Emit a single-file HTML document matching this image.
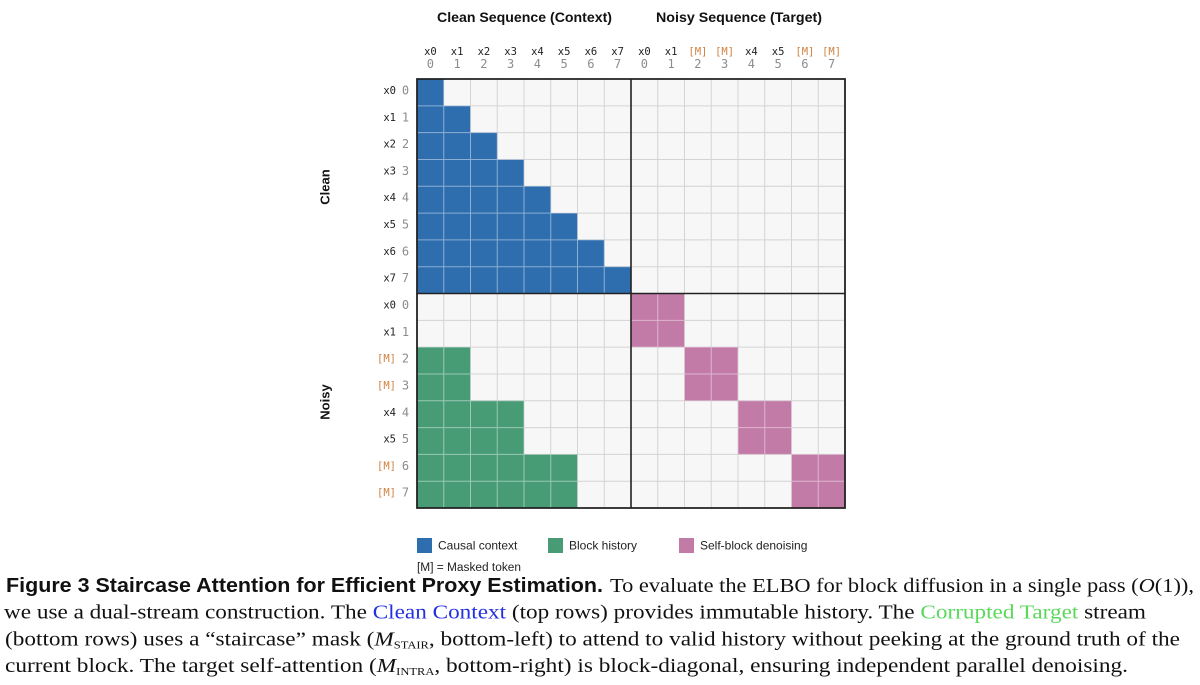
<!DOCTYPE html>
<html>
<head>
<meta charset="utf-8">
<style>
  html,body{margin:0;padding:0;background:#fff;}
  body{width:1200px;height:685px;overflow:hidden;position:relative;}
  svg{position:absolute;left:0;top:0;}
  .mono{font-family:"DejaVu Sans Mono","Liberation Mono",monospace;}
  .sans{font-family:"Liberation Sans",Arial,sans-serif;}
  .serif{font-family:"Liberation Serif","Times New Roman",serif;}
</style>
</head>
<body>
<svg width="1200" height="685" viewBox="0 0 1200 685" xmlns="http://www.w3.org/2000/svg">
  <defs>
    <clipPath id="colclip">
      <polygon points="0,0 1,0 1,1 2,1 2,2 3,2 3,3 4,3 4,4 5,4 5,5 6,5 6,6 7,6 7,7 8,7 8,8 0,8"/>
      <polygon points="0,10 2,10 2,12 4,12 4,14 6,14 6,16 0,16"/>
      <rect x="8" y="8" width="2" height="2"/>
      <rect x="10" y="10" width="2" height="2"/>
      <rect x="12" y="12" width="2" height="2"/>
      <rect x="14" y="14" width="2" height="2"/>
    </clipPath>
  </defs>

  <!-- Titles -->
  <text class="sans" x="437" y="22" font-size="14" font-weight="bold" fill="#111" textLength="175" lengthAdjust="spacingAndGlyphs">Clean Sequence (Context)</text>
  <text class="sans" x="656" y="22" font-size="14" font-weight="bold" fill="#111" textLength="166" lengthAdjust="spacingAndGlyphs">Noisy Sequence (Target)</text>

  <!-- Grid -->
  <g transform="translate(417,79) scale(26.75,26.8125)">
    <rect x="0" y="0" width="16" height="16" fill="#f7f7f7"/>
    <path d="M1 0V16M2 0V16M3 0V16M4 0V16M5 0V16M6 0V16M7 0V16M9 0V16M10 0V16M11 0V16M12 0V16M13 0V16M14 0V16M15 0V16M0 1H16M0 2H16M0 3H16M0 4H16M0 5H16M0 6H16M0 7H16M0 9H16M0 10H16M0 11H16M0 12H16M0 13H16M0 14H16M0 15H16" stroke="#d4d4d4" stroke-width="1" fill="none" vector-effect="non-scaling-stroke"/>
    <polygon points="0,0 1,0 1,1 2,1 2,2 3,2 3,3 4,3 4,4 5,4 5,5 6,5 6,6 7,6 7,7 8,7 8,8 0,8" fill="#2e6eae"/>
    <polygon points="0,10 2,10 2,12 4,12 4,14 6,14 6,16 0,16" fill="#479c76"/>
    <rect x="8" y="8" width="2" height="2" fill="#c27ba7"/>
    <rect x="10" y="10" width="2" height="2" fill="#c27ba7"/>
    <rect x="12" y="12" width="2" height="2" fill="#c27ba7"/>
    <rect x="14" y="14" width="2" height="2" fill="#c27ba7"/>
    <path clip-path="url(#colclip)" d="M1 0V16M2 0V16M3 0V16M4 0V16M5 0V16M6 0V16M7 0V16M9 0V16M10 0V16M11 0V16M12 0V16M13 0V16M14 0V16M15 0V16M0 1H16M0 2H16M0 3H16M0 4H16M0 5H16M0 6H16M0 7H16M0 9H16M0 10H16M0 11H16M0 12H16M0 13H16M0 14H16M0 15H16" stroke="rgba(255,255,255,0.45)" stroke-width="1" fill="none" vector-effect="non-scaling-stroke"/>
    <path d="M8 0V16M0 8H16" stroke="#222" stroke-width="1.6" fill="none" vector-effect="non-scaling-stroke"/>
    <rect x="0" y="0" width="16" height="16" stroke="#222" stroke-width="1.8" fill="none" vector-effect="non-scaling-stroke"/>
  </g>

  <!-- Column labels -->
  <g class="mono" font-size="10.5" fill="#222" text-anchor="middle">
    <text x="430.4" y="55">x0</text>
    <text x="457.1" y="55">x1</text>
    <text x="483.9" y="55">x2</text>
    <text x="510.6" y="55">x3</text>
    <text x="537.4" y="55">x4</text>
    <text x="564.1" y="55">x5</text>
    <text x="590.9" y="55">x6</text>
    <text x="617.6" y="55">x7</text>
    <text x="644.4" y="55">x0</text>
    <text x="671.1" y="55">x1</text>
    <text x="697.9" y="55" fill="#d0803f">[M]</text>
    <text x="724.6" y="55" fill="#d0803f">[M]</text>
    <text x="751.4" y="55">x4</text>
    <text x="778.1" y="55">x5</text>
    <text x="804.9" y="55" fill="#d0803f">[M]</text>
    <text x="831.6" y="55" fill="#d0803f">[M]</text>
  </g>
  <g class="mono" font-size="12" fill="#8c8c8c" text-anchor="middle">
    <text x="430.4" y="68">0</text>
    <text x="457.1" y="68">1</text>
    <text x="483.9" y="68">2</text>
    <text x="510.6" y="68">3</text>
    <text x="537.4" y="68">4</text>
    <text x="564.1" y="68">5</text>
    <text x="590.9" y="68">6</text>
    <text x="617.6" y="68">7</text>
    <text x="644.4" y="68">0</text>
    <text x="671.1" y="68">1</text>
    <text x="697.9" y="68">2</text>
    <text x="724.6" y="68">3</text>
    <text x="751.4" y="68">4</text>
    <text x="778.1" y="68">5</text>
    <text x="804.9" y="68">6</text>
    <text x="831.6" y="68">7</text>
  </g>

  <!-- Row labels -->
  <g class="mono" font-size="10.5" fill="#222" text-anchor="end">
    <text x="396" y="94">x0</text>
    <text x="396" y="120.8">x1</text>
    <text x="396" y="147.6">x2</text>
    <text x="396" y="174.4">x3</text>
    <text x="396" y="201.2">x4</text>
    <text x="396" y="228.1">x5</text>
    <text x="396" y="254.9">x6</text>
    <text x="396" y="281.7">x7</text>
    <text x="396" y="308.5">x0</text>
    <text x="396" y="335.3">x1</text>
    <text x="396" y="362.1" fill="#d0803f">[M]</text>
    <text x="396" y="389" fill="#d0803f">[M]</text>
    <text x="396" y="415.8">x4</text>
    <text x="396" y="442.6">x5</text>
    <text x="396" y="469.4" fill="#d0803f">[M]</text>
    <text x="396" y="496.2" fill="#d0803f">[M]</text>
  </g>
  <g class="mono" font-size="12" fill="#8c8c8c" text-anchor="middle">
    <text x="405.5" y="94.5">0</text>
    <text x="405.5" y="121.3">1</text>
    <text x="405.5" y="148.1">2</text>
    <text x="405.5" y="174.9">3</text>
    <text x="405.5" y="201.7">4</text>
    <text x="405.5" y="228.6">5</text>
    <text x="405.5" y="255.4">6</text>
    <text x="405.5" y="282.2">7</text>
    <text x="405.5" y="309">0</text>
    <text x="405.5" y="335.8">1</text>
    <text x="405.5" y="362.6">2</text>
    <text x="405.5" y="389.5">3</text>
    <text x="405.5" y="416.3">4</text>
    <text x="405.5" y="443.1">5</text>
    <text x="405.5" y="469.9">6</text>
    <text x="405.5" y="496.7">7</text>
  </g>

  <!-- Side labels -->
  <text class="sans" font-size="13" font-weight="bold" fill="#111" text-anchor="middle" transform="translate(329.5,187) rotate(-90)">Clean</text>
  <text class="sans" font-size="13" font-weight="bold" fill="#111" text-anchor="middle" transform="translate(329.5,402) rotate(-90)">Noisy</text>

  <!-- Legend -->
  <rect x="417" y="538" width="15" height="15" fill="#2e6eae"/>
  <text class="sans" x="438" y="549.5" font-size="12" fill="#222">Causal context</text>
  <rect x="548" y="538" width="15" height="15" fill="#479c76"/>
  <text class="sans" x="569" y="549.5" font-size="12" fill="#222">Block history</text>
  <rect x="679" y="538" width="15" height="15" fill="#c27ba7"/>
  <text class="sans" x="700" y="549.5" font-size="12" fill="#222">Self-block denoising</text>
  <text class="sans" x="417" y="571" font-size="11.5" fill="#222" textLength="104" lengthAdjust="spacingAndGlyphs">[M] = Masked token</text>

  <!-- Caption -->
  <text class="sans" x="6" y="592" font-size="20" font-weight="bold" fill="#111" textLength="597" lengthAdjust="spacingAndGlyphs">Figure 3  Staircase Attention for Efficient Proxy Estimation.</text>
  <text class="serif" x="610" y="592" font-size="20.5" fill="#111" textLength="584" lengthAdjust="spacingAndGlyphs">To evaluate the ELBO for block diffusion in a single pass (<tspan font-style="italic">O</tspan>(1)),</text>
  <text class="serif" x="4" y="618.5" font-size="20.5" fill="#111" textLength="1142" lengthAdjust="spacingAndGlyphs">we use a dual-stream construction. The <tspan fill="#2430e0">Clean Context</tspan> (top rows) provides immutable history. The <tspan fill="#5ad85a">Corrupted Target</tspan> stream</text>
  <text class="serif" x="5" y="645.5" font-size="20.5" fill="#111" textLength="1175" lengthAdjust="spacingAndGlyphs">(bottom rows) uses a “staircase” mask (<tspan font-style="italic">M</tspan><tspan font-size="11" dy="3">STAIR</tspan><tspan dy="-3">, bottom-left) to attend to valid history without peeking at the ground truth of the</tspan></text>
  <text class="serif" x="5" y="672" font-size="20.5" fill="#111" textLength="1123" lengthAdjust="spacingAndGlyphs">current block. The target self-attention (<tspan font-style="italic">M</tspan><tspan font-size="11" dy="3">INTRA</tspan><tspan dy="-3">, bottom-right) is block-diagonal, ensuring independent parallel denoising.</tspan></text>
</svg>
</body>
</html>
